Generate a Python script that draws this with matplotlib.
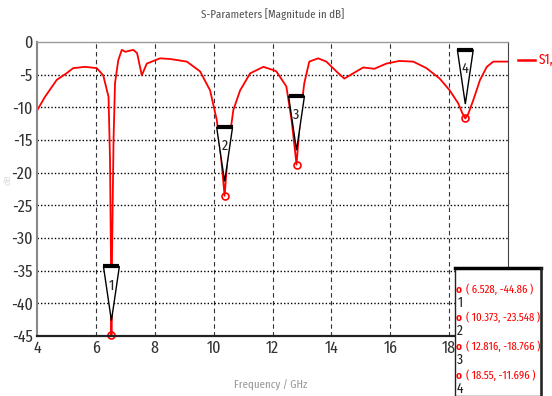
import matplotlib
matplotlib.use('Agg')
import matplotlib.pyplot as plt
from matplotlib.patches import Polygon, Rectangle

plt.rcParams['font.family'] = ['Fira Sans Condensed', 'DejaVu Sans']
plt.rcParams['axes.unicode_minus'] = False
NARROW = ['Fira Sans Extra Condensed', 'DejaVu Sans']

#S11 trace
freq = [4.0, 4.27, 4.67, 5.0, 5.23, 5.63, 6.03, 6.25, 6.43, 6.48, 6.51, 6.528,
        6.55, 6.6, 6.65, 6.76, 6.88, 7.0, 7.27, 7.4, 7.56, 7.73, 8.01, 8.18,
        8.52, 9.09, 9.54, 9.88, 10.11, 10.25, 10.373, 10.5, 10.67, 10.9, 11.24,
        11.69, 12.03, 12.13, 12.47, 12.65, 12.816, 12.95, 13.08, 13.25, 13.55,
        13.83, 14.17, 14.44, 14.74, 15.08, 15.46, 15.87, 16.31, 16.78, 17.23,
        17.68, 18.02, 18.31, 18.45, 18.55, 18.65, 18.82, 19.05, 19.28, 19.5, 20.0]
s11 = [-10.5, -8.4, -5.8, -4.8, -4.0, -3.8, -4.0, -5.1, -8.4, -18.0, -32.0, -44.86,
       -32.0, -15.0, -6.3, -2.8, -1.2, -1.5, -1.2, -1.7, -5.1, -3.3, -2.8, -2.5,
       -2.6, -3.0, -4.5, -7.4, -12.0, -17.5, -23.548, -16.0, -10.4, -7.4, -4.8,
       -3.8, -4.3, -4.5, -6.8, -12.0, -18.766, -11.0, -6.3, -3.0, -2.5,
       -3.0, -4.5, -5.6, -4.8, -3.9, -4.1, -3.3, -2.9, -3.0, -4.0,
       -5.6, -7.4, -9.4, -10.9, -11.696, -11.0, -8.9, -5.8, -3.8, -3.0, -3.0]

#marker table
mk_freq = [6.528, 10.373, 12.816, 18.55]
mk_db = [-44.86, -23.548, -18.766, -11.696]
mk_id = ['1', '2', '3', '4']

xticks = [4, 6, 8, 10, 12, 14, 16, 18]
yticks = [0, -5, -10, -15, -20, -25, -30, -35, -40, -45]

fig = plt.figure(figsize=(5.52, 3.96), dpi=100)
ax = fig.add_axes([37/552, 1-336/396, 471/552, 294/396])

ax.plot(freq, s11, color='red', lw=1.3, label='S1,1', clip_on=False)
ax.plot(mk_freq, mk_db, 'o', mfc='none', mec='red', ms=5, mew=1.2, clip_on=False)

for f, d, n in zip(mk_freq, mk_db, mk_id):
    tri = Polygon([(f-0.27, d+10.5), (f+0.27, d+10.5), (f, d+2.2)],
                  closed=True, fc='white', ec='black', lw=1.0, zorder=4)
    ax.add_patch(tri)
    ax.plot([f-0.27, f+0.27], [d+10.5, d+10.5], color='black', lw=3, zorder=5,
            solid_capstyle='butt')
    ax.text(f, d+7.6, n, ha='center', va='center', fontsize=11, zorder=6,
            family=NARROW, color='#222222')

ax.set_xlim(4, 20)
ax.set_ylim(-45, 0)
ax.set_xticks(xticks)
ax.set_yticks(yticks)
ax.tick_params(length=0, labelsize=12.5, pad=3, colors='#333333')
for lab in ax.get_xticklabels() + ax.get_yticklabels():
    lab.set_family(NARROW)

for x in xticks[1:]:
    ax.axvline(x, color='#333333', lw=0.8, ls=(0, (4, 3)), zorder=1)
for y in yticks[1:-1]:
    ax.axhline(y, color='black', lw=1.0, ls=(0, (1, 1.5)), zorder=1)

ax.spines['left'].set_color('#888888')
ax.spines['left'].set_linewidth(1.5)
ax.spines['top'].set_color('#999999')
ax.spines['top'].set_linewidth(1.0)
ax.spines['right'].set_color('#444444')
ax.spines['right'].set_linewidth(0.8)
ax.spines['bottom'].set_color('#222222')
ax.spines['bottom'].set_linewidth(1.6)

fig.text(273/552, 1-14/396, 'S-Parameters [Magnitude in dB]', ha='center', va='center',
         fontsize=8.5, color='#555555', family=NARROW)
fig.text(271/552, 1-385/396, 'Frequency / GHz', ha='center', va='center',
         fontsize=8.5, color='#999999', family=NARROW)
fig.text(8/552, 1-180/396, 'dB', ha='center', va='center', rotation=90,
         fontsize=7, color='#dddddd')

#legend
fig.add_artist(plt.Line2D([518/552, 535/552], [1-60/396, 1-60/396], color='red', lw=1.8))
fig.text(539/552, 1-60/396, 'S1,1', ha='left', va='center', fontsize=10.5, color='red',
         family=NARROW)

#marker value box
box = Rectangle((455/552, 0), 86/552, 128/396, transform=fig.transFigure,
                fc='white', ec='#222222', lw=1.0, zorder=10)
fig.add_artist(box)
fig.add_artist(plt.Line2D([455/552, 541/552], [1-268/396, 1-268/396], color='black', lw=2.5, zorder=11))
fig.add_artist(plt.Line2D([541/552, 541/552], [0, 1-268/396], color='#222222', lw=1.8, zorder=11))
rows_y = [290, 318, 347, 376]
for ry, f, d, n in zip(rows_y, mk_freq, mk_db, mk_id):
    fig.text(459/552, 1-ry/396, 'o', ha='center', va='center', fontsize=8,
             color='red', zorder=12, fontweight='bold')
    fig.text(466/552, 1-ry/396, '( %s, %s )' % (f, d), ha='left', va='center',
             fontsize=8.4, color='red', zorder=12, family=NARROW)
    fig.text(460/552, 1-(ry+13)/396, n, ha='center', va='center', fontsize=10.5,
             color='#222222', zorder=12, family=NARROW)

fig.savefig('out.png', dpi=100)
